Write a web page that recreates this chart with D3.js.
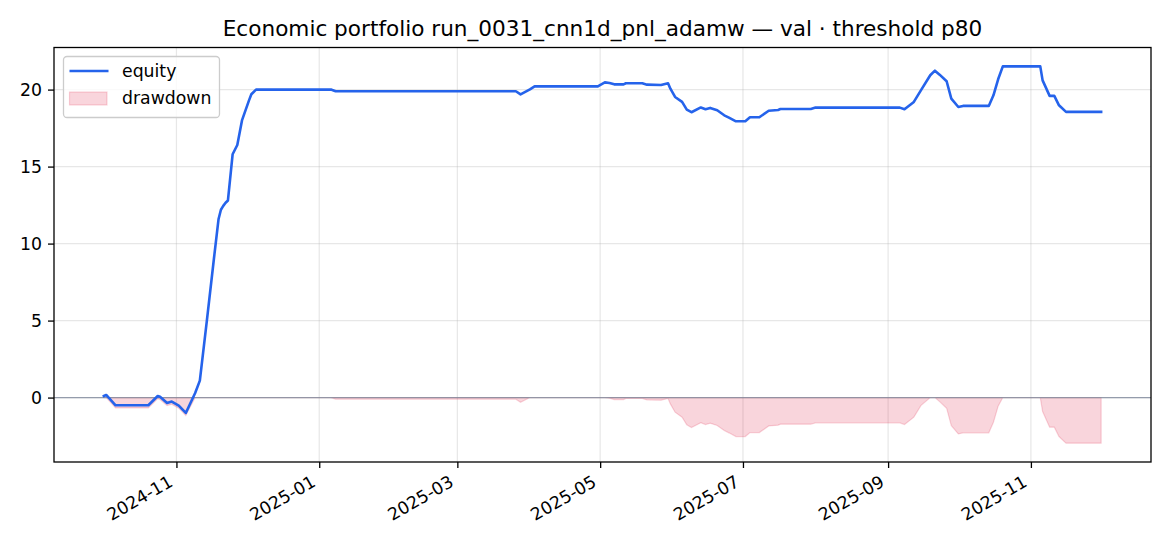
<!DOCTYPE html>
<html>
<head>
<meta charset="utf-8">
<script src="https://cdn.jsdelivr.net/npm/d3@7"></script>
<style>
    body { margin: 0; background: #fff; }
    text { font-family: "DejaVu Sans", sans-serif; fill: #000; }
</style>
</head>
<body>
<svg id="chart" width="1170" height="546"></svg>
<script>
var fechas = [
    "2024-10-01", "2024-10-02", "2024-10-06", "2024-10-20", "2024-10-24", "2024-10-25",
    "2024-10-28", "2024-10-30", "2024-11-02", "2024-11-05", "2024-11-09", "2024-11-11",
    "2024-11-14", "2024-11-17", "2024-11-19", "2024-11-20", "2024-11-21", "2024-11-22",
    "2024-11-23", "2024-11-25", "2024-11-27", "2024-11-29", "2024-12-02", "2024-12-03",
    "2024-12-05", "2025-01-06", "2025-01-08", "2025-03-26", "2025-03-28", "2025-04-01",
    "2025-04-03", "2025-04-30", "2025-05-03", "2025-05-05", "2025-05-07", "2025-05-11",
    "2025-05-12", "2025-05-19", "2025-05-21", "2025-05-27", "2025-05-30", "2025-05-31",
    "2025-06-02", "2025-06-05", "2025-06-07", "2025-06-09", "2025-06-13", "2025-06-15",
    "2025-06-17", "2025-06-20", "2025-06-23", "2025-06-25", "2025-06-28", "2025-07-02",
    "2025-07-04", "2025-07-08", "2025-07-12", "2025-07-16", "2025-07-17", "2025-07-30",
    "2025-08-01", "2025-09-06", "2025-09-08", "2025-09-12", "2025-09-15", "2025-09-19",
    "2025-09-21", "2025-09-23", "2025-09-26", "2025-09-28", "2025-10-01", "2025-10-03",
    "2025-10-14", "2025-10-16", "2025-10-18", "2025-10-20", "2025-11-05", "2025-11-06",
    "2025-11-09", "2025-11-11", "2025-11-13", "2025-11-16", "2025-12-01"
];

var equity = [
    0.10, 0.17, -0.50, -0.50, 0.10, 0.05,
    -0.35, -0.26, -0.52, -1.00, 0.30, 1.10,
    5.00, 9.00, 11.60, 12.20, 12.45, 12.65,
    12.80, 15.80, 16.40, 18.00, 19.30, 19.70,
    20.00, 20.00, 19.89, 19.89, 19.69, 20.01,
    20.21, 20.21, 20.47, 20.43, 20.34, 20.34,
    20.41, 20.41, 20.32, 20.30, 20.41, 20.06,
    19.52, 19.20, 18.70, 18.53, 18.84, 18.72,
    18.81, 18.66, 18.33, 18.18, 17.94, 17.94,
    18.20, 18.20, 18.63, 18.68, 18.74, 18.74,
    18.83, 18.83, 18.72, 19.20, 19.95, 20.93,
    21.23, 20.97, 20.54, 19.41, 18.87, 18.94,
    18.94, 19.63, 20.67, 21.51, 21.51, 20.60,
    19.59, 19.59, 18.98, 18.55, 18.55
];

var drawdown = [
    0, 0, -0.67, -0.67, -0.07, -0.12,
    -0.52, -0.43, -0.69, -1.17, 0, 0,
    0, 0, 0, 0, 0, 0,
    0, 0, 0, 0, 0, 0,
    0, 0, -0.11, -0.11, -0.31, 0,
    0, 0, 0, -0.04, -0.13, -0.13,
    -0.06, -0.06, -0.15, -0.17, -0.06, -0.41,
    -0.95, -1.27, -1.77, -1.94, -1.63, -1.75,
    -1.66, -1.81, -2.14, -2.29, -2.53, -2.53,
    -2.27, -2.27, -1.84, -1.79, -1.73, -1.73,
    -1.64, -1.64, -1.75, -1.27, -0.52, 0,
    0, -0.26, -0.69, -1.82, -2.36, -2.29,
    -2.29, -1.60, -0.56, 0, 0, -0.91,
    -1.92, -1.92, -2.53, -2.96, -2.96
];

var ticksX = ["2024-11", "2025-01", "2025-03", "2025-05", "2025-07", "2025-09", "2025-11"];
var ticksY = [0, 5, 10, 15, 20];

var titulo = "Economic portfolio run_0031_cnn1d_pnl_adamw \u2014 val \u00b7 threshold p80";

var parseFecha = d3.utcParse("%Y-%m-%d");
var parseMes = d3.utcParse("%Y-%m");

var datos = fechas.map(function (f, i) {
    return { fecha: parseFecha(f), equity: equity[i], drawdown: drawdown[i] };
});

var caja = { left: 54, top: 47.5, width: 1097, height: 414.5 };
var fontTick = 17.3;

var svg = d3.select("#chart");

// margenes del 5% como matplotlib
var extX = d3.extent(datos, function (d) { return d.fecha; });
var spanX = extX[1] - extX[0];
var x = d3.scaleUtc()
    .domain([new Date(+extX[0] - spanX * 0.05), new Date(+extX[1] + spanX * 0.05)])
    .range([caja.left, caja.left + caja.width]);

var minY = d3.min([d3.min(equity), d3.min(drawdown)]);
var maxY = d3.max([d3.max(equity), d3.max(drawdown)]);
var spanY = maxY - minY;
var y = d3.scaleLinear()
    .domain([minY - spanY * 0.05, maxY + spanY * 0.05])
    .range([caja.top + caja.height, caja.top]);

var g = svg.append("g");

// grid
var fechasTick = ticksX.map(function (t) { return parseMes(t); });
g.selectAll(".gridx").data(fechasTick).enter().append("line")
    .attr("x1", function (d) { return x(d); })
    .attr("x2", function (d) { return x(d); })
    .attr("y1", caja.top)
    .attr("y2", caja.top + caja.height)
    .attr("stroke", "#b0b0b0")
    .attr("stroke-opacity", 0.3)
    .attr("stroke-width", 1.2);

g.selectAll(".gridy").data(ticksY).enter().append("line")
    .attr("x1", caja.left)
    .attr("x2", caja.left + caja.width)
    .attr("y1", function (d) { return y(d); })
    .attr("y2", function (d) { return y(d); })
    .attr("stroke", "#b0b0b0")
    .attr("stroke-opacity", 0.3)
    .attr("stroke-width", 1.2);

// drawdown
var area = d3.area()
    .x(function (d) { return x(d.fecha); })
    .y0(function () { return y(0); })
    .y1(function (d) { return y(d.drawdown); });

g.append("path")
    .datum(datos)
    .attr("d", area)
    .attr("fill", "#dc143c")
    .attr("fill-opacity", 0.18)
    .attr("stroke", "#dc143c")
    .attr("stroke-opacity", 0.18)
    .attr("stroke-width", 1.2);

// linea cero
g.append("line")
    .attr("x1", caja.left)
    .attr("x2", caja.left + caja.width)
    .attr("y1", y(0))
    .attr("y2", y(0))
    .attr("stroke", "#7f8a9c")
    .attr("stroke-opacity", 0.8)
    .attr("stroke-width", 1.2);

var linea = d3.line()
    .x(function (d) { return x(d.fecha); })
    .y(function (d) { return y(d.equity); });

g.append("path")
    .datum(datos)
    .attr("d", linea)
    .attr("fill", "none")
    .attr("stroke", "#2563eb")
    .attr("stroke-width", 2.6)
    .attr("stroke-linejoin", "round")
    .attr("stroke-linecap", "square");

// ejes
var ejeX = d3.axisBottom(x)
    .tickValues(fechasTick)
    .tickFormat(d3.utcFormat("%Y-%m"))
    .tickSize(6)
    .tickPadding(6);

var gx = svg.append("g")
    .attr("transform", "translate(0," + (caja.top + caja.height) + ")")
    .call(ejeX);
gx.select(".domain").remove();
gx.selectAll(".tick line").attr("stroke", "#000").attr("stroke-width", 1.3);
gx.selectAll(".tick text")
    .attr("font-size", fontTick)
    .attr("font-family", "DejaVu Sans")
    .attr("fill", "#000")
    .attr("text-anchor", "end")
    .attr("dy", "0.75em")
    .attr("y", 0)
    .attr("transform", "translate(-9.5,12) rotate(-30)");

var ejeY = d3.axisLeft(y)
    .tickValues(ticksY)
    .tickFormat(d3.format("d"))
    .tickSize(6)
    .tickPadding(6);

var gy = svg.append("g")
    .attr("transform", "translate(" + caja.left + ",0)")
    .call(ejeY);
gy.select(".domain").remove();
gy.selectAll(".tick line").attr("stroke", "#000").attr("stroke-width", 1.3);
gy.selectAll(".tick text")
    .attr("font-size", fontTick)
    .attr("font-family", "DejaVu Sans")
    .attr("fill", "#000");

// marco
svg.append("rect")
    .attr("x", caja.left)
    .attr("y", caja.top)
    .attr("width", caja.width)
    .attr("height", caja.height)
    .attr("fill", "none")
    .attr("stroke", "#000")
    .attr("stroke-width", 1.3);

svg.append("text")
    .attr("x", caja.left + caja.width / 2)
    .attr("y", 36)
    .attr("text-anchor", "middle")
    .attr("font-size", 21.6)
    .text(titulo);

// leyenda
var leyenda = svg.append("g");
leyenda.append("rect")
    .attr("x", 63.5)
    .attr("y", 56.5)
    .attr("width", 156)
    .attr("height", 61)
    .attr("rx", 3.5)
    .attr("fill", "#fff")
    .attr("fill-opacity", 0.8)
    .attr("stroke", "#cccccc")
    .attr("stroke-width", 1.3);

leyenda.append("line")
    .attr("x1", 69.5)
    .attr("x2", 108.5)
    .attr("y1", 71)
    .attr("y2", 71)
    .attr("stroke", "#2563eb")
    .attr("stroke-width", 2.6);

leyenda.append("rect")
    .attr("x", 69.5)
    .attr("y", 92)
    .attr("width", 37.5)
    .attr("height", 13)
    .attr("fill", "#dc143c")
    .attr("fill-opacity", 0.18)
    .attr("stroke", "#dc143c")
    .attr("stroke-opacity", 0.18)
    .attr("stroke-width", 1.2);

leyenda.selectAll(".etiqueta").data(["equity", "drawdown"]).enter().append("text")
    .attr("x", 122)
    .attr("y", function (d, i) { return 77 + i * 27; })
    .attr("font-size", fontTick)
    .text(function (d) { return d; });
</script>
</body>
</html>
